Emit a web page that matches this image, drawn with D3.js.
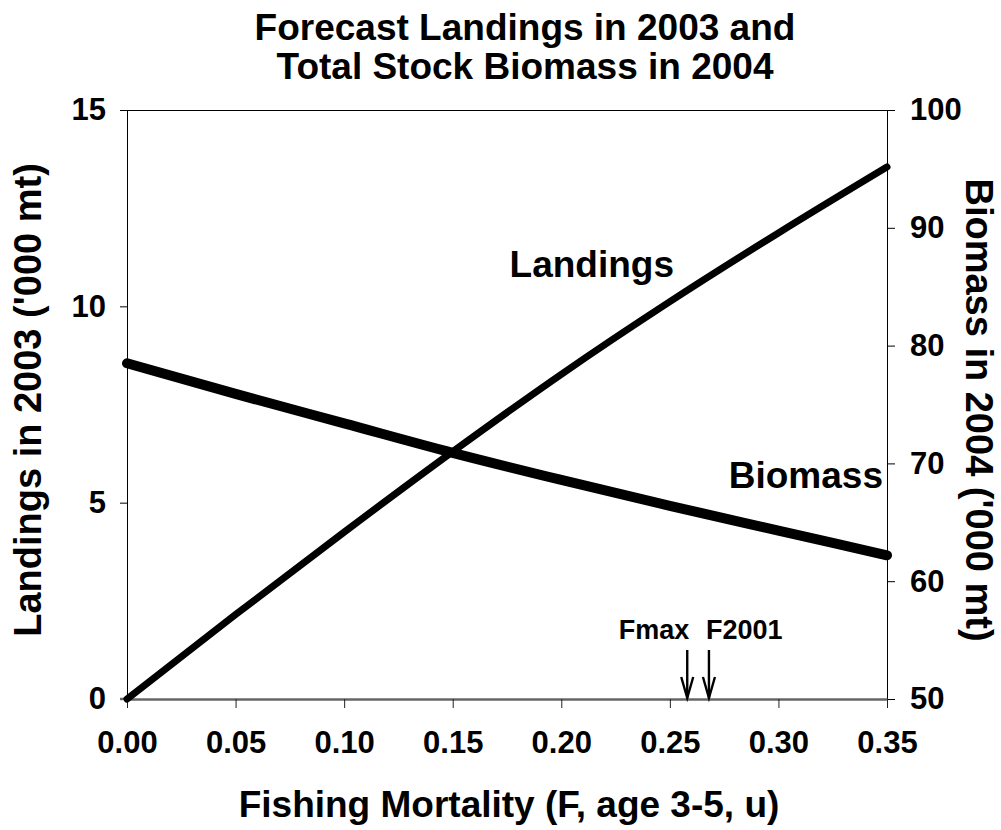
<!DOCTYPE html>
<html>
<head>
<meta charset="utf-8">
<script src="https://cdn.jsdelivr.net/npm/d3@7"></script>
<style>
  body { margin: 0; background: #fff; }
  svg text { font-family: "Liberation Sans", Arial, sans-serif; font-weight: bold; fill: #000; }
</style>
</head>
<body>
<div id="chart"></div>
<script>
"use strict";

// fishing mortality (F, ages 3-5)
var fValues = [0, 0.05, 0.10, 0.15, 0.20, 0.25, 0.30, 0.35];
// landings in 2003 ('000 mt), left axis
var landings = [0, 2.15, 4.25, 6.3, 8.27, 10.12, 11.87, 13.55];
// total stock biomass in 2004 ('000 mt), right axis
var biomass = [78.5, 75.9, 73.4, 70.9, 68.6, 66.4, 64.3, 62.2];

var xTicks = [0, 0.05, 0.10, 0.15, 0.20, 0.25, 0.30, 0.35];
var leftTicks = [0, 5, 10, 15];
var rightTicks = [50, 60, 70, 80, 90, 100];

// reference points marked with arrows
var refNames = ["Fmax", "F2001"];
var refValues = [0.258, 0.268];

var titleLines = ["Forecast Landings in 2003 and", "Total Stock Biomass in 2004"];

var width = 1001, height = 830;
var margin = { top: 110, right: 114, bottom: 131, left: 127 };

var svg = d3.select("#chart")
  .append("svg")
  .attr("width", width)
  .attr("height", height);

var x = d3.scaleLinear().domain([0, 0.35]).range([margin.left, width - margin.right]);
var yL = d3.scaleLinear().domain([0, 15]).range([height - margin.bottom, margin.top]);
var yR = d3.scaleLinear().domain([50, 100]).range([height - margin.bottom, margin.top]);

var x0 = x.range()[0], x1 = x.range()[1];
var yBot = yL.range()[0], yTop = yL.range()[1];

// top frame line
svg.append("line")
  .attr("x1", x0).attr("x2", x1)
  .attr("y1", yTop + 0.5).attr("y2", yTop + 0.5)
  .attr("stroke", "#000").attr("stroke-width", 1);

// left axis
var gL = svg.append("g")
  .attr("transform", "translate(" + x0 + ",0)")
  .call(d3.axisLeft(yL).tickValues(leftTicks).tickSize(7).tickPadding(14).tickSizeOuter(0));
// right axis
var gR = svg.append("g")
  .attr("transform", "translate(" + x1 + ",0)")
  .call(d3.axisRight(yR).tickValues(rightTicks).tickSize(8).tickPadding(15).tickSizeOuter(0));
// bottom axis
var gB = svg.append("g")
  .attr("transform", "translate(0," + yBot + ")")
  .call(d3.axisBottom(x).tickValues(xTicks).tickFormat(d3.format(".2f"))
    .tickSize(9).tickPadding(23).tickSizeOuter(0));

[gL, gR, gB].forEach(function (g) {
  g.selectAll("text").attr("font-size", 31).style("font-family", null);
  g.selectAll(".tick line").attr("stroke", "#000");
  g.select(".domain").attr("stroke", "#000");
  g.attr("font-family", null).attr("font-size", null);
});
gB.select(".domain").attr("stroke", "#666").attr("stroke-width", 2.5);
gB.selectAll(".tick line").attr("stroke", "#222");

// extend bottom axis to the left tick
svg.append("line")
  .attr("x1", x0 - 7).attr("x2", x0)
  .attr("y1", yBot).attr("y2", yBot)
  .attr("stroke", "#666").attr("stroke-width", 2.5);

var pts = fValues.map(function (f, i) { return { f: f, l: landings[i], b: biomass[i] }; });

var lineL = d3.line()
  .x(function (d) { return x(d.f); })
  .y(function (d) { return yL(d.l); })
  .curve(d3.curveMonotoneX);
var lineB = d3.line()
  .x(function (d) { return x(d.f); })
  .y(function (d) { return yR(d.b); })
  .curve(d3.curveMonotoneX);

svg.append("path")
  .datum(pts)
  .attr("d", lineB)
  .attr("fill", "none")
  .attr("stroke", "#000")
  .attr("stroke-width", 10)
  .attr("stroke-linecap", "round")
  .attr("stroke-linejoin", "round");

svg.append("path")
  .datum(pts)
  .attr("d", lineL)
  .attr("fill", "none")
  .attr("stroke", "#000")
  .attr("stroke-width", 7)
  .attr("stroke-linecap", "round")
  .attr("stroke-linejoin", "round");

// series labels
svg.append("text")
  .attr("x", 674).attr("y", 277)
  .attr("text-anchor", "end")
  .attr("font-size", 37)
  .text("Landings");
svg.append("text")
  .attr("x", 883).attr("y", 488)
  .attr("text-anchor", "end")
  .attr("font-size", 37)
  .text("Biomass");

// reference arrows
refValues.forEach(function (v, i) {
  var ax = x(v);
  var g = svg.append("g").attr("stroke", "#000").attr("stroke-width", 2.4).attr("fill", "none");
  g.append("line").attr("x1", ax).attr("x2", ax).attr("y1", 650).attr("y2", yBot - 1);
  g.append("polyline")
    .attr("points", [[ax - 6, yBot - 22], [ax, yBot - 1], [ax + 6, yBot - 22]].map(function (p) { return p.join(","); }).join(" "));
  svg.append("text")
    .attr("x", i === 0 ? ax + 2 : ax - 3)
    .attr("y", 639)
    .attr("text-anchor", i === 0 ? "end" : "start")
    .attr("font-size", 27)
    .text(refNames[i]);
});

// title
svg.selectAll(".title")
  .data(titleLines)
  .enter()
  .append("text")
  .attr("class", "title")
  .attr("x", 525)
  .attr("y", function (d, i) { return 40 + i * 39; })
  .attr("text-anchor", "middle")
  .attr("font-size", 37)
  .text(function (d) { return d; });

// axis titles
svg.append("text")
  .attr("x", (x0 + x1) / 2 + 2).attr("y", 817)
  .attr("text-anchor", "middle")
  .attr("font-size", 37)
  .text("Fishing Mortality (F, age 3-5, u)");

svg.append("text")
  .attr("transform", "translate(41," + 400 + ") rotate(-90)")
  .attr("text-anchor", "middle")
  .attr("font-size", 38)
  .text("Landings in 2003 ('000 mt)");

svg.append("text")
  .attr("transform", "translate(966," + 410 + ") rotate(90)")
  .attr("text-anchor", "middle")
  .attr("font-size", 38)
  .text("Biomass in 2004 ('000 mt)");
</script>
</body>
</html>
